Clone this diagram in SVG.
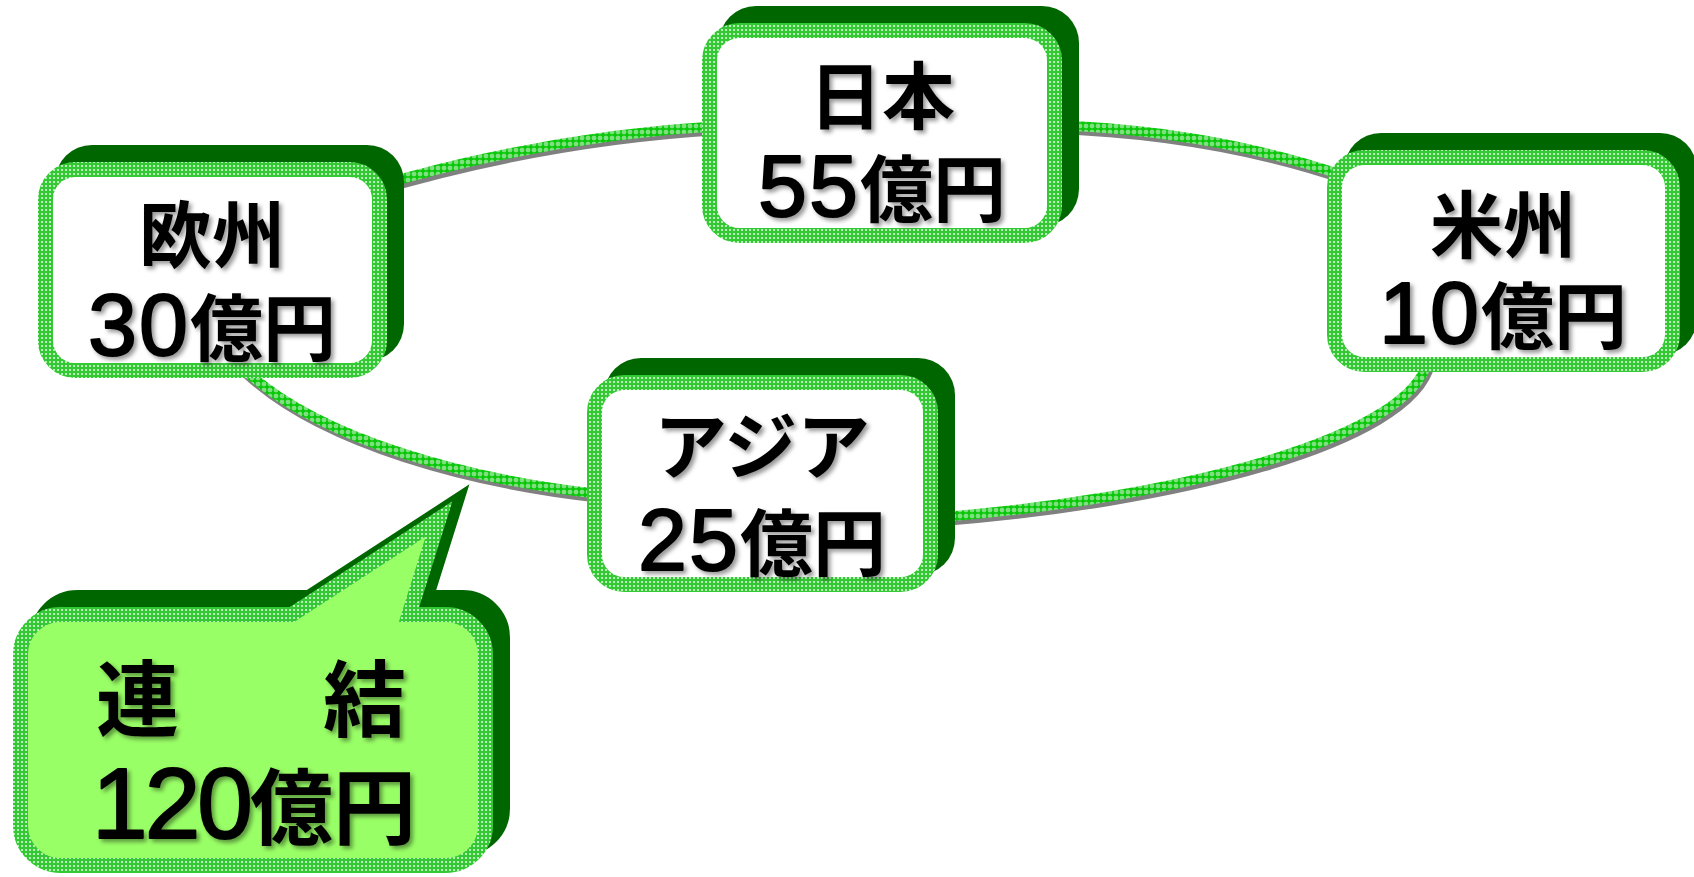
<svg xmlns="http://www.w3.org/2000/svg" width="1694" height="877" viewBox="0 0 1694 877">
<defs>
<pattern id="dots" patternUnits="userSpaceOnUse" width="4" height="4">
<rect width="4" height="4" fill="#33c933"/>
<circle cx="2" cy="2" r="1.05" fill="#ffffff" fill-opacity="0.85"/>
</pattern>
<pattern id="cross" patternUnits="userSpaceOnUse" width="6" height="6">
<rect width="6" height="6" fill="#7fe07f"/>
<path d="M3 0.4 L4.3 1.7 L5.6 3 L4.3 4.3 L3 5.6 L1.7 4.3 L0.4 3 L1.7 1.7 Z" fill="#08c808"/>
<rect x="2.3" y="0" width="1.4" height="6" fill="#08c808"/>
<rect x="0" y="2.3" width="6" height="1.4" fill="#08c808"/>
</pattern>
<filter id="ts" x="-10%" y="-10%" width="130%" height="130%">
<feDropShadow dx="3" dy="3" stdDeviation="2" flood-color="#000" flood-opacity="0.4"/>
</filter>
</defs>
<style>
.ring{fill:none;stroke:url(#cross);stroke-width:10}
.ringsh{fill:none;stroke:#808080;stroke-width:10}
.sh{fill:#006600}
.box{fill:#ffffff;stroke:url(#dots);stroke-width:15}
.t{font-family:"Noto Sans CJK JP","Noto Sans CJK SC",sans-serif;font-weight:700;fill:#000;filter:url(#ts)}
.d{font-family:"Liberation Sans","Noto Sans CJK JP",sans-serif;font-weight:400;stroke:#000;stroke-width:2;stroke-linejoin:round}
</style>
<rect width="1694" height="877" fill="#ffffff"/>
<g id="connectors">
<g transform="translate(2,4)">
<path class="ringsh" d="M370,188 Q545,136 720,126"/>
<path class="ringsh" d="M1050,125 Q1210,130 1345,176"/>
<path class="ringsh" d="M1428,360 C1410,440 1170,500 930,518"/>
<path class="ringsh" d="M600,494 C470,480 320,440 245,370"/>
</g>
<path class="ring" d="M370,188 Q545,136 720,126"/>
<path class="ring" d="M1050,125 Q1210,130 1345,176"/>
<path class="ring" d="M1428,360 C1410,440 1170,500 930,518"/>
<path class="ring" d="M600,494 C470,480 320,440 245,370"/>
</g>
<g id="node-japan">
<rect class="sh" x="719" y="6" width="360" height="220" rx="37"/>
<rect class="box" x="709.5" y="30.5" width="345" height="205" rx="30"/>
<text class="t" x="882" y="123" font-size="73" text-anchor="middle">日本</text>
<text class="t" x="882" y="216" font-size="73" text-anchor="middle"><tspan class="d" font-size="88" letter-spacing="2">55</tspan>億円</text>
</g>
<g id="node-europe">
<rect class="sh" x="55" y="145" width="349" height="216" rx="37"/>
<rect class="box" x="45.5" y="169.5" width="334" height="201" rx="30"/>
<text class="t" x="212" y="262" font-size="73" text-anchor="middle">欧州</text>
<text class="t" x="212" y="355" font-size="73" text-anchor="middle"><tspan class="d" font-size="88" letter-spacing="2">30</tspan>億円</text>
</g>
<g id="node-america">
<rect class="sh" x="1344" y="133" width="353" height="222" rx="37"/>
<rect class="box" x="1334.5" y="157.5" width="338" height="207" rx="30"/>
<text class="t" x="1503" y="252" font-size="73" text-anchor="middle">米州</text>
<text class="t" x="1503" y="343" font-size="73" text-anchor="middle"><tspan class="d" font-size="88" letter-spacing="2">10</tspan>億円</text>
</g>
<g id="node-asia">
<rect class="sh" x="604" y="358" width="351" height="217" rx="37"/>
<rect class="box" x="594.5" y="382.5" width="336" height="202" rx="30"/>
<text class="t" x="762" y="473" font-size="73" text-anchor="middle">アジア</text>
<text class="t" x="762" y="570" font-size="73" text-anchor="middle"><tspan class="d" font-size="88" letter-spacing="2">25</tspan>億円</text>
</g>
<g id="node-total">
<path transform="translate(17,-17)" d="M60.5,614.5 H292 L439,519 L409,614.5 H445.5 A40,40 0 0 1 485.5,654.5 V825.5 A40,40 0 0 1 445.5,865.5 H60.5 A40,40 0 0 1 20.5,825.5 V654.5 A40,40 0 0 1 60.5,614.5 Z" fill="#006600" stroke="#006600" stroke-width="15"/>
<path d="M60.5,614.5 H292 L439,519 L409,614.5 H445.5 A40,40 0 0 1 485.5,654.5 V825.5 A40,40 0 0 1 445.5,865.5 H60.5 A40,40 0 0 1 20.5,825.5 V654.5 A40,40 0 0 1 60.5,614.5 Z" fill="#99ff66" stroke="url(#dots)" stroke-width="15"/>
<text class="t" y="730" font-size="83"><tspan x="96">連</tspan><tspan x="323">結</tspan></text>
<text class="t" x="254" y="838" font-size="83" text-anchor="middle"><tspan class="d" font-size="100" letter-spacing="-3">120</tspan>億円</text>
</g>
</svg>
